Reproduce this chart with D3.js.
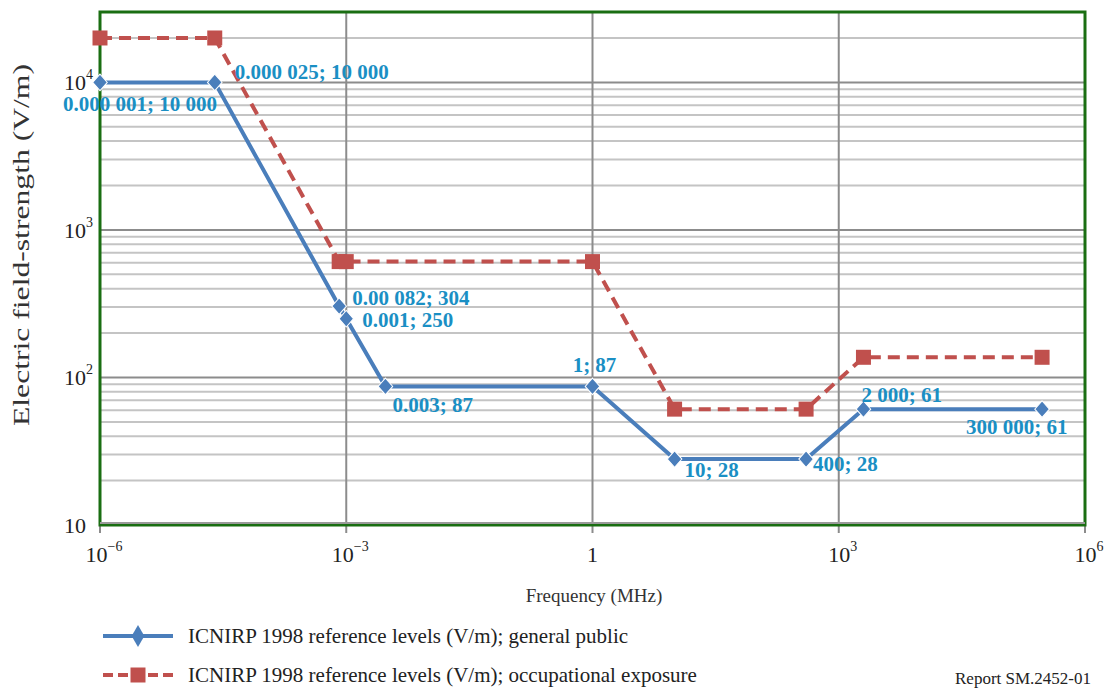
<!DOCTYPE html>
<html lang="en">
<head>
<meta charset="utf-8">
<title>ICNIRP 1998 reference levels</title>
<script src="https://d3js.org/d3.v7.min.js"></script>
<style>
  body { margin: 0; background: #fff; }
  text { font-family: "Liberation Serif", "DejaVu Serif", serif; }
</style>
</head>
<body>
<script>
// data
var freqPublic = [1e-6, 2.5e-5, 8.2e-4, 1e-3, 3e-3, 1, 10, 400, 2000, 3e5];
var fieldPublic = [10000, 10000, 304, 250, 87, 87, 28, 28, 61, 61];
var labelsPublic = ["0.000 001; 10 000", "0.000 025; 10 000", "0.00 082; 304", "0.001; 250",
                    "0.003; 87", "1; 87", "10; 28", "400; 28", "2 000; 61", "300 000; 61"];
var freqOccup = [1e-6, 2.5e-5, 8.2e-4, 1e-3, 1, 10, 400, 2000, 3e5];
var fieldOccup = [20000, 20000, 610, 610, 610, 61, 61, 137, 137];
var xTickExp = [-6, -3, 0, 3, 6];
var yTickExp = [1, 2, 3, 4];
var seriesNames = ["ICNIRP 1998 reference levels (V/m); general public",
                   "ICNIRP 1998 reference levels (V/m); occupational exposure"];

var W = 1110, H = 688;
var m = {left: 100, right: 25, top: 12, bottom: 163};
var blue = "#4a7ebb", red = "#c0504d", lblColor = "#1a8fc4", green = "#1a6e12";

var svg = d3.select("body").append("svg").attr("width", W).attr("height", H);

var x = d3.scaleLog().domain([1e-6, 1e6]).range([m.left, W - m.right]);
var y = d3.scaleLog().domain([10, 30000]).range([H - m.bottom, m.top]);

var grid = svg.append("g");
// minor horizontal grid
var minor = [];
for (var e = 1; e <= 4; e++) for (var k = 2; k <= 9; k++) {
  var v = k * Math.pow(10, e);
  if (v <= 30000) minor.push(v);
}
grid.selectAll(".minor").data(minor).enter().append("line")
  .attr("x1", x.range()[0]).attr("x2", x.range()[1])
  .attr("y1", d => y(d)).attr("y2", d => y(d))
  .attr("stroke", "#c4c4c4").attr("stroke-width", 2);
grid.selectAll(".major").data(yTickExp.map(e => Math.pow(10, e))).enter().append("line")
  .attr("x1", x.range()[0]).attr("x2", x.range()[1])
  .attr("y1", d => y(d)).attr("y2", d => y(d))
  .attr("stroke", "#8c8c8c").attr("stroke-width", 2);
grid.selectAll(".vmajor").data(xTickExp.map(e => Math.pow(10, e))).enter().append("line")
  .attr("x1", d => x(d)).attr("x2", d => x(d))
  .attr("y1", y.range()[0]).attr("y2", y.range()[1])
  .attr("stroke", "#8c8c8c").attr("stroke-width", 2);

// x tick marks
svg.selectAll(".xt").data(xTickExp).enter().append("line")
  .attr("x1", d => x(Math.pow(10, d))).attr("x2", d => x(Math.pow(10, d)))
  .attr("y1", y(10)).attr("y2", y(10) + 8)
  .attr("stroke", "#8c8c8c").attr("stroke-width", 2);

// plot frame
svg.append("rect")
  .attr("x", x.range()[0]).attr("y", y.range()[1])
  .attr("width", x.range()[1] - x.range()[0]).attr("height", y.range()[0] - y.range()[1])
  .attr("fill", "none").attr("stroke", green).attr("stroke-width", 3);
svg.append("line")
  .attr("x1", x.range()[0]).attr("x2", x.range()[1])
  .attr("y1", y(10) - 2).attr("y2", y(10) - 2)
  .attr("stroke", "#9a9a9a").attr("stroke-width", 2);

// tick labels with superscripts
function powLabel(sel, e) {
  if (e === 0) { sel.text("1"); return; }
  if (e === 1) { sel.text("10"); return; }
  sel.append("tspan").text("10");
  sel.append("tspan").attr("dy", -11).attr("font-size", 14)
    .text(e < 0 ? "\u2212" + (-e) : String(e));
}
svg.selectAll(".xl").data(xTickExp).enter().append("text")
  .attr("x", d => x(Math.pow(10, d)) + (d === 0 ? 0 : 4)).attr("y", y(10) + 37)
  .attr("text-anchor", "middle").attr("font-size", 22).attr("fill", "#222")
  .each(function(d) { powLabel(d3.select(this), d); });
svg.selectAll(".yl").data(yTickExp).enter().append("text")
  .attr("x", d => d === 1 ? m.left - 14 : m.left - 7)
  .attr("y", d => y(Math.pow(10, d)) + 8)
  .attr("text-anchor", "end").attr("font-size", 22).attr("fill", "#222")
  .each(function(d) { powLabel(d3.select(this), d); });

// axis titles
svg.append("text")
  .attr("transform", "translate(29,245) rotate(-90)")
  .attr("text-anchor", "middle").attr("font-size", 24).attr("fill", "#333")
  .attr("textLength", 362).attr("lengthAdjust", "spacingAndGlyphs")
  .text("Electric field-strength (V/m)");
svg.append("text")
  .attr("x", 594).attr("y", 602).attr("text-anchor", "middle")
  .attr("font-size", 19).attr("fill", "#333").text("Frequency (MHz)");

// series
var pub = freqPublic.map((f, i) => ({f: f, v: fieldPublic[i], l: labelsPublic[i]}));
var occ = freqOccup.map((f, i) => ({f: f, v: fieldOccup[i]}));
var line = d3.line().x(d => x(d.f)).y(d => y(d.v));

svg.append("path").datum(occ).attr("d", line)
  .attr("fill", "none").attr("stroke", red).attr("stroke-width", 4)
  .attr("stroke-dasharray", "12,7");
svg.append("path").datum(pub).attr("d", line)
  .attr("fill", "none").attr("stroke", blue).attr("stroke-width", 4);

var sq = d3.symbol().type(d3.symbolSquare).size(225);
var dia = d3.symbol().type(d3.symbolDiamond2).size(150);
svg.selectAll(".occ").data(occ).enter().append("path")
  .attr("d", sq).attr("transform", d => "translate(" + x(d.f) + "," + y(d.v) + ")")
  .attr("fill", red);
svg.selectAll(".pub").data(pub).enter().append("path")
  .attr("d", dia).attr("transform", d => "translate(" + x(d.f) + "," + y(d.v) + ") scale(0.95,1.08)")
  .attr("fill", blue).attr("stroke", "#fff").attr("stroke-width", 1);

// data labels: [dx, dy, anchor]
var lblPos = [[40, 29, "middle"], [20, -3, "start"], [13, -1, "start"], [16, 8, "start"],
              [7, 26, "start"], [2, -14, "middle"], [10, 18, "start"], [7, 12, "start"],
              [-2, -7, "start"], [-76, 25, "start"]];
svg.selectAll(".dl").data(pub).enter().append("text")
  .attr("x", (d, i) => x(d.f) + lblPos[i][0]).attr("y", (d, i) => y(d.v) + lblPos[i][1])
  .attr("text-anchor", (d, i) => lblPos[i][2])
  .attr("font-size", 21).attr("font-weight", "bold").attr("fill", lblColor)
  .text(d => d.l);

// legend
var lg = svg.append("g");
var legDia = d3.symbol().type(d3.symbolDiamond).size(140);
[0, 1].forEach(function(i) {
  var ly = 636 + i * 39;
  lg.append("line").attr("x1", 103).attr("x2", 173).attr("y1", ly).attr("y2", ly)
    .attr("stroke", i ? red : blue).attr("stroke-width", 4)
    .attr("stroke-dasharray", i ? "10,5" : null);
  lg.append("path").attr("d", i ? sq : legDia)
    .attr("transform", "translate(138," + ly + ")")
    .attr("fill", i ? red : blue);
  lg.append("text").attr("x", 188).attr("y", ly + 7)
    .attr("font-size", 21).attr("fill", "#222").text(seriesNames[i]);
});

svg.append("text").attr("x", 955).attr("y", 684)
  .attr("font-size", 17).attr("fill", "#222").text("Report SM.2452-01");
</script>
</body>
</html>
